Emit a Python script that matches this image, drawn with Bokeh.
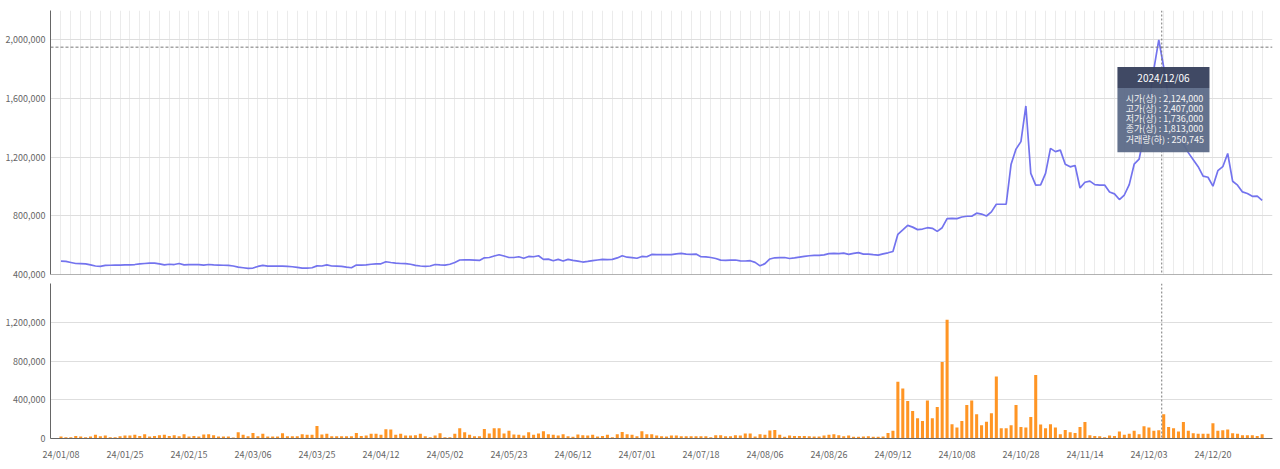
import numpy as np
from bokeh.plotting import figure
from bokeh.layouts import column
from bokeh.models import (ColumnDataSource, FixedTicker, NumeralTickFormatter,
                          Span, BoxAnnotation, Label, Range1d)
from bokeh.embed import file_html
from bokeh.resources import INLINE

# ---------------- data ----------------
close = [
    491000, 489000, 482000, 475000, 474000, 473000, 466000, 458000, 455000, 462000,
    463000, 464000, 464000, 465000, 466000, 468000, 472000, 475000, 477000, 477000,
    472000, 466000, 470000, 468000, 475000, 466000, 467000, 468000, 467000, 464000,
    468000, 465000, 464000, 463000, 462000, 458000, 450000, 446000, 442000, 444000,
    455000, 462000, 457000, 458000, 457000, 457000, 455000, 453000, 448000, 443000,
    444000, 446000, 459000, 458000, 466000, 458000, 457000, 455000, 450000, 446000,
    464000, 464000, 466000, 470000, 473000, 473000, 487000, 482000, 478000, 475000,
    474000, 470000, 462000, 458000, 455000, 458000, 468000, 465000, 464000, 470000,
    482000, 499000, 500000, 500000, 498000, 496000, 514000, 516000, 526000, 535000,
    526000, 516000, 516000, 521000, 511000, 523000, 521000, 528000, 503000, 505000,
    494000, 503000, 492000, 503000, 496000, 491000, 485000, 489000, 494000, 499000,
    503000, 501000, 503000, 513000, 528000, 518000, 515000, 511000, 523000, 521000,
    537000, 535000, 535000, 535000, 535000, 541000, 544000, 539000, 537000, 539000,
    521000, 520000, 516000, 509000, 498000, 496000, 498000, 499000, 493000, 492000,
    494000, 483000, 459000, 474000, 506000, 514000, 515000, 516000, 509000, 513000,
    518000, 523000, 528000, 530000, 531000, 534000, 542000, 544000, 542000, 546000,
    537000, 544000, 549000, 539000, 539000, 535000, 532000, 541000, 548000, 557000,
    674000, 704000, 735000, 723000, 706000, 710000, 719000, 715000, 694000, 719000,
    781000, 783000, 781000, 792000, 797000, 797000, 818000, 812000, 799000, 827000,
    879000, 879000, 879000, 1152000, 1255000, 1306000, 1549000, 1089000, 1009000, 1011000,
    1089000, 1260000, 1238000, 1248000, 1152000, 1134000, 1143000, 990000, 1029000, 1037000,
    1013000, 1009000, 1010000, 962000, 950000, 911000, 942000, 1013000, 1152000, 1186000,
    1350000, 1560000, 1800000, 2000000, 1813000, 1600000, 1460000, 1360000, 1290000, 1231000,
    1183000, 1135000, 1071000, 1063000, 1002000, 1108000, 1135000, 1225000, 1036000, 1009000,
    963000, 952000, 933000, 935000, 906000,
]

volume = [
    21000, 14000, 14000, 27000, 21000, 14000, 21000, 38000, 24000, 31000,
    14000, 14000, 24000, 31000, 31000, 38000, 27000, 44000, 21000, 27000,
    34000, 38000, 27000, 34000, 24000, 44000, 21000, 27000, 21000, 41000,
    44000, 34000, 21000, 21000, 21000, 10000, 65000, 38000, 24000, 58000,
    24000, 48000, 21000, 21000, 21000, 55000, 24000, 24000, 24000, 44000,
    38000, 38000, 130000, 41000, 48000, 24000, 24000, 24000, 24000, 24000,
    58000, 27000, 31000, 48000, 48000, 38000, 96000, 92000, 38000, 48000,
    31000, 31000, 34000, 48000, 24000, 14000, 31000, 55000, 14000, 14000,
    48000, 106000, 65000, 38000, 24000, 24000, 99000, 51000, 106000, 106000,
    51000, 79000, 41000, 38000, 31000, 65000, 38000, 51000, 75000, 44000,
    38000, 31000, 44000, 24000, 17000, 41000, 34000, 31000, 38000, 21000,
    27000, 38000, 14000, 44000, 68000, 44000, 38000, 24000, 75000, 44000,
    44000, 31000, 24000, 21000, 31000, 31000, 24000, 24000, 24000, 24000,
    24000, 24000, 14000, 34000, 34000, 24000, 24000, 34000, 31000, 51000,
    51000, 21000, 44000, 38000, 82000, 89000, 38000, 17000, 31000, 27000,
    27000, 27000, 24000, 21000, 21000, 31000, 38000, 44000, 34000, 24000,
    31000, 17000, 17000, 21000, 24000, 17000, 17000, 21000, 58000, 79000,
    585000, 516000, 386000, 284000, 209000, 181000, 393000, 209000, 325000, 790000,
    1227000, 147000, 113000, 181000, 345000, 393000, 250000, 137000, 174000, 260000,
    639000, 106000, 106000, 137000, 345000, 120000, 113000, 222000, 656000, 144000,
    106000, 147000, 113000, 44000, 89000, 65000, 58000, 120000, 171000, 34000,
    27000, 24000, 14000, 31000, 27000, 72000, 38000, 48000, 79000, 44000,
    126000, 113000, 79000, 85000, 250745, 120000, 106000, 72000, 171000, 79000,
    55000, 48000, 48000, 48000, 157000, 79000, 85000, 92000, 55000, 48000,
    34000, 34000, 34000, 27000, 44000,
]

tick_labels = ["24/01/08", "24/01/25", "24/02/15", "24/03/06", "24/03/25", "24/04/12",
               "24/05/02", "24/05/23", "24/06/12", "24/07/01", "24/07/18", "24/08/06",
               "24/08/26", "24/09/12", "24/10/08", "24/10/28", "24/11/14", "24/12/03",
               "24/12/20"]
tick_step = 13  # trading days between date labels

price_ticks = [400000, 800000, 1200000, 1600000, 2000000]
volume_ticks = [0, 400000, 800000, 1200000]

hover_index = 224
tooltip_title = "2024/12/06"
tooltip_lines = ["시가(상) : 2,124,000", "고가(상) : 2,407,000", "저가(상) : 1,736,000",
                 "종가(상) : 1,813,000", "거래량(하) : 250,745"]
crosshair_price = 1950000

# ---------------- styling ----------------
FONT = "Noto Sans CJK KR"
LABEL_COLOR = "#666666"
AXIS_COLOR = "#666666"
GRID_COLOR = "#dedede"
VGRID_COLOR = "#ebebeb"

n = len(close)
src = ColumnDataSource(dict(x=list(range(n)), close=close, volume=volume))

x_start, x_end = -2.13, 246.1
WIDTH = 1280


def style_yaxis(p, ticks):
    p.yaxis.ticker = FixedTicker(ticks=ticks)
    p.yaxis.formatter = NumeralTickFormatter(format="0,0")
    p.yaxis.axis_line_color = AXIS_COLOR
    p.yaxis.axis_line_width = 1
    p.yaxis.major_tick_line_color = None
    p.yaxis.minor_tick_line_color = None
    p.yaxis.major_tick_out = 0
    p.yaxis.major_tick_in = 0
    p.yaxis.minor_tick_out = 0
    p.yaxis.minor_tick_in = 0
    p.yaxis.major_label_text_font = FONT
    p.yaxis.major_label_text_font_size = "9px"
    p.yaxis.major_label_text_color = LABEL_COLOR
    p.yaxis.major_label_standoff = 5
    p.ygrid.ticker = FixedTicker(ticks=ticks)
    p.ygrid.grid_line_color = GRID_COLOR
    p.ygrid.grid_line_width = 1


# ---------------- price chart ----------------
p1 = figure(width=WIDTH, frame_height=264,
            x_range=Range1d(x_start, x_end), y_range=Range1d(400000, 2200000),
            output_backend="svg", toolbar_location=None,
            min_border_left=50, min_border_right=8, min_border_top=10, min_border_bottom=7)
p1.outline_line_color = None
p1.background_fill_color = "white"
p1.border_fill_color = "white"
p1.xaxis.visible = False
p1.xgrid.ticker = FixedTicker(ticks=list(range(0, n, 2)))
p1.xgrid.grid_line_color = VGRID_COLOR
p1.xgrid.grid_line_width = 1
style_yaxis(p1, price_ticks)

p1.line(x="x", y="close", source=src, line_color="#7373ee", line_width=1.7)

p1.add_layout(Span(location=400000, dimension="width", line_color=AXIS_COLOR, line_width=1.2))
p1.add_layout(Span(location=crosshair_price, dimension="width", line_color="#777777",
                   line_width=1, line_dash="3 2"))
p1.add_layout(Span(location=hover_index - 0.4, dimension="height", line_color="#777777",
                   line_width=1, line_dash="2 2"))

# tooltip box
tt_left, tt_right = hover_index - 9.4, hover_index + 9.3
tt_top, tt_mid, tt_bottom = 1815000, 1672000, 1234000
p1.add_layout(BoxAnnotation(left=tt_left, right=tt_right, top=tt_top, bottom=tt_mid,
                            fill_color="#38425e", fill_alpha=0.96, line_color=None))
p1.add_layout(BoxAnnotation(left=tt_left, right=tt_right, top=tt_mid, bottom=tt_bottom,
                            fill_color="#5c6a88", fill_alpha=0.95, line_color=None))
p1.add_layout(Label(x=(tt_left + tt_right) / 2, y=1744000, text=tooltip_title,
                    text_align="center", text_baseline="middle", text_color="white",
                    text_font=FONT, text_font_size="10px"))
line_ys = [1601000, 1533000, 1465000, 1394000, 1323000]
for txt, yy in zip(tooltip_lines, line_ys):
    p1.add_layout(Label(x=tt_left + 1.7, y=yy, text=txt, text_align="left",
                        text_baseline="middle", text_color="#f4f4f4",
                        text_font=FONT, text_font_size="9px"))

# ---------------- volume chart ----------------
p2 = figure(width=WIDTH, frame_height=155,
            x_range=Range1d(x_start, x_end), y_range=Range1d(0, 1600000),
            output_backend="svg", toolbar_location=None,
            min_border_left=50, min_border_right=8, min_border_top=2, min_border_bottom=0)
p2.outline_line_color = None
p2.background_fill_color = "white"
p2.border_fill_color = "white"
p2.xgrid.visible = False
style_yaxis(p2, volume_ticks)

p2.vbar(x="x", top="volume", width=0.62, source=src, fill_color="#ff9524", line_color=None)

xt = [i * tick_step for i in range(len(tick_labels))]
p2.xaxis.ticker = FixedTicker(ticks=xt)
p2.xaxis.major_label_overrides = {t: lbl for t, lbl in zip(xt, tick_labels)}
p2.xaxis.axis_line_color = AXIS_COLOR
p2.xaxis.axis_line_width = 1.2
p2.xaxis.major_tick_line_color = None
p2.xaxis.minor_tick_line_color = None
p2.xaxis.major_tick_out = 0
p2.xaxis.major_tick_in = 0
p2.xaxis.minor_tick_out = 0
p2.xaxis.minor_tick_in = 0
p2.xaxis.major_label_text_font = FONT
p2.xaxis.major_label_text_font_size = "9px"
p2.xaxis.major_label_text_color = LABEL_COLOR
p2.xaxis.major_label_standoff = 9

p2.add_layout(Span(location=hover_index - 0.4, dimension="height", line_color="#777777",
                   line_width=1, line_dash="2 2"))

layout = column(p1, p2, spacing=0)
open("out.html", "w").write(file_html(layout, INLINE))
